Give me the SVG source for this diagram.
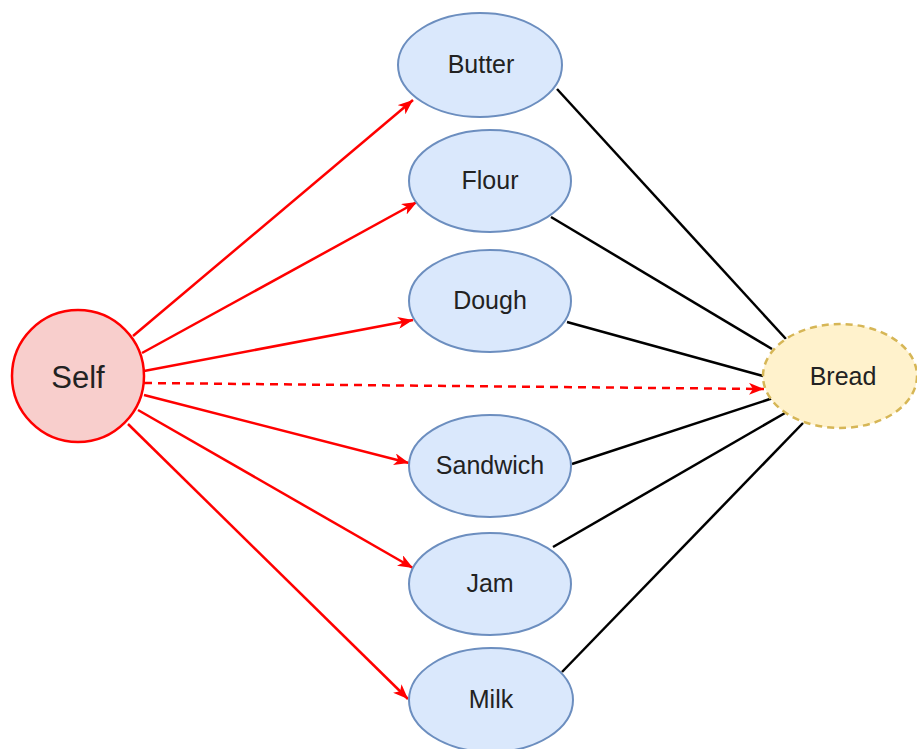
<svg xmlns="http://www.w3.org/2000/svg" width="917" height="749" viewBox="0 0 917 749">
<style>
.food ellipse{fill:#dae8fc;stroke:#6c8ebf;stroke-width:2}
text{font-family:"Liberation Sans",Arial,sans-serif;fill:#222;text-anchor:middle;dominant-baseline:central}
.lbl{font-size:25px}
.red{stroke:#ff0000;stroke-width:2.5;fill:none}
.blk{stroke:#000;stroke-width:2.5;fill:none}
</style>
<defs>
<marker id="ah" viewBox="0 0 15 12" refX="15" refY="6" markerWidth="15" markerHeight="12" markerUnits="userSpaceOnUse" orient="auto">
<path d="M0,0 L15,6 L0,12 L4,6 Z" fill="#ff0000"/>
</marker>
</defs>
<g id="connectors">
<line class="red" x1="133" y1="336" x2="413" y2="100" marker-end="url(#ah)"/>
<line class="red" x1="142" y1="353" x2="417" y2="202" marker-end="url(#ah)"/>
<line class="red" x1="144" y1="371" x2="413" y2="320" marker-end="url(#ah)"/>
<line class="red" x1="144" y1="383" x2="764" y2="389" stroke-dasharray="8 6" marker-end="url(#ah)"/>
<line class="red" x1="144" y1="395" x2="409" y2="463" marker-end="url(#ah)"/>
<line class="red" x1="138" y1="410" x2="413" y2="568" marker-end="url(#ah)"/>
<line class="red" x1="128" y1="424" x2="408" y2="699" marker-end="url(#ah)"/>
<line class="blk" x1="557" y1="89" x2="786" y2="339"/>
<line class="blk" x1="551" y1="217" x2="772" y2="349"/>
<line class="blk" x1="567" y1="322" x2="763" y2="376"/>
<line class="blk" x1="572" y1="464" x2="773" y2="398"/>
<line class="blk" x1="553" y1="547" x2="785" y2="413"/>
<line class="blk" x1="562" y1="672" x2="803" y2="423"/>
</g>
<g id="self">
<circle cx="78" cy="376" r="66" fill="#f8cecc" stroke="#ff0000" stroke-width="2.5"/>
<text x="78" y="377" font-size="31">Self</text>
</g>
<g id="butter" class="food"><ellipse cx="480" cy="65" rx="82" ry="52"/><text class="lbl" x="481" y="64">Butter</text></g>
<g id="flour" class="food"><ellipse cx="490" cy="181" rx="81" ry="51"/><text class="lbl" x="490" y="180">Flour</text></g>
<g id="dough" class="food"><ellipse cx="490" cy="301" rx="81" ry="51"/><text class="lbl" x="490" y="300">Dough</text></g>
<g id="sandwich" class="food"><ellipse cx="490" cy="466" rx="81" ry="51"/><text class="lbl" x="490" y="465">Sandwich</text></g>
<g id="jam" class="food"><ellipse cx="490" cy="584" rx="81" ry="51"/><text class="lbl" x="490" y="583">Jam</text></g>
<g id="milk" class="food"><ellipse cx="491" cy="700" rx="82" ry="52"/><text class="lbl" x="491" y="699">Milk</text></g>
<g id="bread">
<ellipse cx="840" cy="376" rx="77" ry="52" fill="#fff2cc" stroke="#d6b656" stroke-width="2.5" stroke-dasharray="7 5"/>
<text class="lbl" x="843" y="376">Bread</text>
</g>
</svg>
